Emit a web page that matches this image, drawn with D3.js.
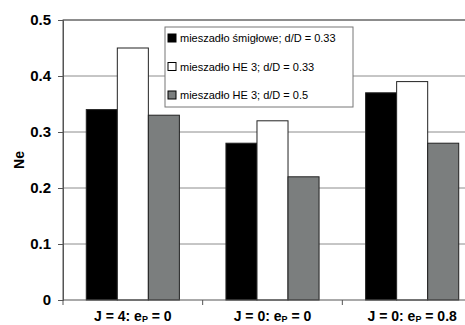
<!DOCTYPE html>
<meta charset="utf-8">
<head>
    <script src="https://d3js.org/d3.v7.min.js"></script>
    <style>
        body { margin: 0; background: white; }
        text { font-family: Arial, "Liberation Sans", sans-serif; }
    </style>
</head>
<body>
<script type="text/javascript">

    // data
    var categories = ["J = 4: e|P| = 0", "J = 0: e|P| = 0", "J = 0: e|P| = 0.8"];
    var seriesNames = ["mieszadło śmigłowe; d/D = 0.33", "mieszadło HE 3; d/D = 0.33", "mieszadło HE 3; d/D = 0.5"];
    var propeller033 = [0.34, 0.28, 0.37];
    var he3033 = [0.45, 0.32, 0.39];
    var he305 = [0.33, 0.22, 0.28];
    var yTicks = [0, 0.1, 0.2, 0.3, 0.4, 0.5];

    var seriesValues = [propeller033, he3033, he305];
    var colors = ["#000000", "#ffffff", "#7b7e7e"];

    var width = 465, height = 325;
    var plot = {left: 63, top: 20, right: 482, bottom: 300};

    var svg = d3.select("body")
        .append("svg")
        .attr("width", width)
        .attr("height", height);

    var x = d3.scaleBand()
        .domain(categories)
        .range([plot.left, plot.right]);

    var xInner = d3.scaleBand()
        .domain(d3.range(seriesValues.length))
        .range([0, x.bandwidth()])
        .paddingOuter(0.75)
        .paddingInner(0);

    var y = d3.scaleLinear()
        .domain([0, 0.5])
        .range([plot.bottom, plot.top]);

    // gridlines
    svg.append("g")
        .selectAll("line")
        .data(yTicks.slice(1))
        .enter()
        .append("line")
        .attr("x1", plot.left)
        .attr("x2", plot.right)
        .attr("y1", d => y(d))
        .attr("y2", d => y(d))
        .attr("stroke", "#8c8c8c")
        .attr("stroke-width", 1);

    // bars
    categories.forEach(function (c, ci) {
        seriesValues.forEach(function (vals, si) {
            svg.append("rect")
                .attr("x", x(c) + xInner(si))
                .attr("y", y(vals[ci]))
                .attr("width", xInner.bandwidth())
                .attr("height", y(0) - y(vals[ci]))
                .attr("fill", colors[si])
                .attr("stroke", "#222")
                .attr("stroke-width", 1);
        });
    });

    // plot frame
    svg.append("rect")
        .attr("x", plot.left)
        .attr("y", plot.top)
        .attr("width", plot.right - plot.left)
        .attr("height", plot.bottom - plot.top)
        .attr("fill", "none")
        .attr("stroke", "#555")
        .attr("stroke-width", 1);

    // y axis
    var yAxis = d3.axisLeft(y)
        .tickValues(yTicks)
        .tickSize(5)
        .tickPadding(7)
        .tickFormat(d => d === 0 ? "0" : d3.format(".1f")(d));

    var gy = svg.append("g")
        .attr("transform", "translate(" + plot.left + ",0)")
        .call(yAxis);
    gy.select(".domain").attr("stroke", "#555");
    gy.selectAll(".tick line").attr("stroke", "#555");
    gy.selectAll(".tick text")
        .attr("font-size", "15px")
        .attr("font-weight", "bold")
        .attr("fill", "#000");

    // x axis separators
    var seps = categories.map(c => x(c));
    svg.append("g")
        .selectAll("line")
        .data(seps)
        .enter()
        .append("line")
        .attr("x1", d => d)
        .attr("x2", d => d)
        .attr("y1", plot.bottom)
        .attr("y2", plot.bottom + 5)
        .attr("stroke", "#555");

    // x labels with subscript
    svg.append("g")
        .selectAll("text")
        .data(categories)
        .enter()
        .append("text")
        .attr("x", d => x(d) + x.bandwidth() / 2)
        .attr("y", 321)
        .attr("text-anchor", "middle")
        .attr("font-size", "14px")
        .attr("font-weight", "bold")
        .each(function (d) {
            var parts = d.split("|");
            var t = d3.select(this);
            t.append("tspan").text(parts[0]);
            t.append("tspan").attr("font-size", "9px").attr("dy", 1).text(parts[1]);
            t.append("tspan").attr("dy", -1).text(parts[2]);
        });

    // y title
    svg.append("text")
        .attr("transform", "translate(24," + ((plot.top + plot.bottom) / 2) + ") rotate(-90)")
        .attr("text-anchor", "middle")
        .attr("font-size", "14px")
        .attr("font-weight", "bold")
        .text("Ne");

    // legend
    var legend = svg.append("g").attr("transform", "translate(165,27)");
    legend.append("rect")
        .attr("width", 188)
        .attr("height", 80)
        .attr("fill", "white")
        .attr("stroke", "#777");

    var items = legend.selectAll("g.item")
        .data(seriesNames)
        .enter()
        .append("g")
        .attr("class", "item")
        .attr("transform", (d, i) => "translate(0," + (11 + i * 28.5) + ")");

    items.append("rect")
        .attr("x", 3)
        .attr("y", -4)
        .attr("width", 8)
        .attr("height", 8)
        .attr("fill", (d, i) => colors[i])
        .attr("stroke", "#000");

    items.append("text")
        .attr("x", 15)
        .attr("y", 4)
        .attr("font-size", "11px")
        .attr("fill", "#000")
        .text(d => d);

</script>
</body>
</html>
